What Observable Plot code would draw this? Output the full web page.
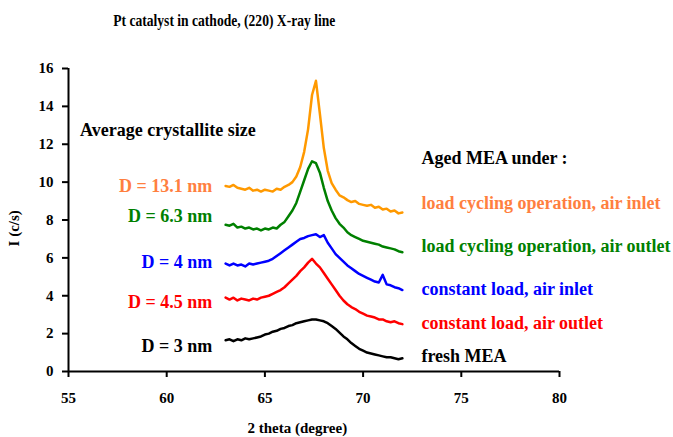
<!DOCTYPE html>
<html><head><meta charset="utf-8">
<script src="https://cdn.jsdelivr.net/npm/d3@7"></script>
<script src="https://cdn.jsdelivr.net/npm/@observablehq/plot@0.6"></script>
<style>
body{margin:0;background:#fff}
#chart svg, #chart svg text{font-family:"Liberation Serif","Times New Roman",serif !important;font-weight:bold !important}
</style>
</head><body><div id="chart"></div>
<script>
const theta = [63.0,63.2,63.4,63.6,63.8,64.0,64.2,64.4,64.6,64.8,65.0,65.2,65.4,65.6,65.8,66.0,66.2,66.4,66.6,66.8,67.0,67.2,67.4,67.6,67.8,68.0,68.2,68.4,68.6,68.8,69.0,69.2,69.4,69.6,69.8,70.0,70.2,70.4,70.6,70.8,71.0,71.2,71.4,71.6,71.8,72.0];

const loadCyclingInlet = [9.8,9.75,9.85,9.7,9.65,9.6,9.7,9.55,9.6,9.5,9.6,9.55,9.5,9.65,9.6,9.75,9.85,10.0,10.3,10.8,11.6,12.8,14.6,15.35,13.6,11.8,10.6,9.95,9.6,9.3,9.2,9.05,8.95,9.0,8.85,8.8,8.75,8.8,8.65,8.7,8.55,8.6,8.45,8.5,8.35,8.4];
const loadCyclingOutlet = [7.75,7.7,7.8,7.6,7.65,7.55,7.6,7.5,7.55,7.45,7.55,7.5,7.6,7.55,7.75,7.9,8.2,8.5,8.9,9.5,10.1,10.7,11.1,11.0,10.5,9.7,9.0,8.5,8.1,7.8,7.6,7.35,7.2,7.1,7.0,6.9,6.85,6.8,6.75,6.7,6.6,6.55,6.5,6.45,6.35,6.3];
const constantInlet = [5.7,5.6,5.7,5.6,5.65,5.55,5.7,5.65,5.7,5.75,5.8,5.85,5.95,6.1,6.25,6.4,6.55,6.7,6.85,7.0,7.05,7.15,7.2,7.25,7.1,7.2,6.8,6.5,6.2,6.0,5.8,5.6,5.45,5.3,5.15,5.05,4.95,4.85,4.75,4.7,5.1,4.6,4.55,4.45,4.4,4.3];
const constantOutlet = [3.9,3.8,3.9,3.75,3.85,3.8,3.75,3.85,3.8,3.9,3.95,4.0,4.1,4.2,4.3,4.45,4.65,4.85,5.05,5.3,5.5,5.75,5.95,5.7,5.5,5.2,4.9,4.6,4.3,4.0,3.75,3.55,3.4,3.3,3.15,3.05,2.95,2.9,2.85,2.75,2.75,2.65,2.6,2.65,2.55,2.5];
const freshMEA = [1.65,1.7,1.6,1.7,1.65,1.75,1.7,1.75,1.8,1.85,1.95,2.0,2.1,2.15,2.25,2.3,2.4,2.45,2.55,2.6,2.65,2.7,2.75,2.75,2.7,2.65,2.55,2.4,2.25,2.05,1.85,1.7,1.5,1.35,1.2,1.1,1.0,0.95,0.9,0.85,0.8,0.75,0.75,0.7,0.65,0.7];

const seriesNames = ["load cycling operation, air inlet","load cycling operation, air outlet","constant load, air inlet","constant load, air outlet","fresh MEA"];
const crystalliteSize = ["D = 13.1 nm","D = 6.3 nm","D = 4 nm","D = 4.5 nm","D = 3 nm"];
const lineColors = ["#FF9900","#008000","#0000FF","#FF0000","#000000"];
const textColors = ["#FF7F3F","#008000","#0000FF","#FF0000","#000000"];
const seriesValues = [loadCyclingInlet, loadCyclingOutlet, constantInlet, constantOutlet, freshMEA];
const xTicks = [55,60,65,70,75,80];
const yTicks = [0,2,4,6,8,10,12,14,16];

const rows = [];
seriesValues.forEach((vals, i) => vals.forEach((v, j) => rows.push({series: seriesNames[i], color: lineColors[i], x: theta[j], y: v})));

// label anchor positions (data coordinates)
const leftLabelY = [9.78, 8.19, 5.76, 3.65, 1.32];
const rightLabelY = [8.88, 6.61, 4.33, 2.54, 0.79];
const leftLabels = crystalliteSize.map((t, i) => ({text: t, color: textColors[i], x: 62.32, y: leftLabelY[i]}));
const rightLabels = seriesNames.map((t, i) => ({text: t, color: textColors[i], x: 72.97, y: rightLabelY[i]}));

const plot = Plot.plot({
  width: 673, height: 437,
  marginLeft: 68, marginRight: 114, marginTop: 68, marginBottom: 66,
  style: {fontSize: "15px", color: "#000", background: "#fff"},
  x: {domain: [55, 80], ticks: xTicks, label: null},
  y: {domain: [0, 16], ticks: yTicks, label: null},
  color: {type: "identity"},
  marks: [
    Plot.axisX({ticks: xTicks, tickSize: 6, tickPadding: 15, strokeWidth: 2, label: null, fontSize: 15}),
    Plot.axisY({ticks: yTicks, tickSize: 6, tickPadding: 9, strokeWidth: 2, label: null, fontSize: 15}),
    Plot.ruleY([0], {strokeWidth: 2}),
    Plot.ruleX([55], {strokeWidth: 2}),
    Plot.line(rows, {x: "x", y: "y", z: "series", stroke: "color", strokeWidth: 2.5, curve: "linear"}),
    Plot.text(leftLabels, {x: "x", y: "y", text: "text", fill: "color", textAnchor: "end", fontSize: 18}),
    Plot.text(rightLabels, {x: "x", y: "y", text: "text", fill: "color", textAnchor: "start", fontSize: 18}),
    Plot.text(["Aged MEA under :"], {x: 72.97, y: 11.26, text: d => d, textAnchor: "start", fill: "#000", fontSize: 18}),
    Plot.text(["Average crystallite size"], {x: 55.59, y: 12.74, text: d => d, textAnchor: "start", fill: "#000", fontSize: 18}),
    Plot.text(["Pt catalyst in cathode, (220) X-ray line"], {x: 62.93, y: 18.55, text: d => d, fill: "#000", fontSize: 17, className: "ptitle"}),
    Plot.text(["2 theta (degree)"], {x: 66.65, y: -3.0, text: d => d, fill: "#000", fontSize: 15}),
    Plot.text(["I (c/s)"], {x: 52.23, y: 7.56, text: d => d, rotate: -90, fill: "#000", fontSize: 15})
  ]
});
document.getElementById("chart").appendChild(plot);
plot.querySelectorAll(".ptitle text").forEach(t => {
  t.setAttribute("textLength", "222");
  t.setAttribute("lengthAdjust", "spacingAndGlyphs");
});
</script>
</body></html>
